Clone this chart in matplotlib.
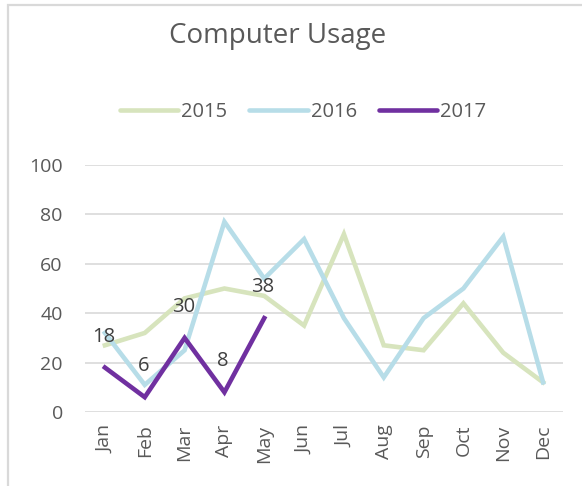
import matplotlib
matplotlib.use("Agg")
import matplotlib.pyplot as plt
from matplotlib.patches import Rectangle
from matplotlib.lines import Line2D

months = ["Jan", "Feb", "Mar", "Apr", "May", "Jun", "Jul", "Aug", "Sep", "Oct", "Nov", "Dec"]
usage_2015 = [27, 32, 46, 50, 47, 35, 72, 27, 25, 44, 24, 12]
usage_2016 = [32, 11, 25, 77, 54, 70, 38, 14, 38, 50, 71, 12]
usage_2017 = [18, 6, 30, 8, 38]
y_ticks = [0, 20, 40, 60, 80, 100]

plt.rcParams['font.family'] = ['Open Sans', 'DejaVu Sans']
W, H = 582, 486
fig = plt.figure(figsize=(W / 100, H / 100), dpi=100)

# border
fig.patches.append(Rectangle((7.5 / W, -0.1), 2, 1 - 5.5 / H + 0.1, transform=fig.transFigure,
                             fill=False, edgecolor="#d9d9d9", linewidth=1.6))

ax = fig.add_axes([85 / W, (H - 412) / H, (563 - 85) / W, (412 - 165) / H])
x = list(range(len(months)))
c15, c16, c17 = "#d7e4bd", "#b7dde8", "#7030a0"
lw = 3.3
ax.plot(x, usage_2015, color=c15, lw=lw, solid_joinstyle="miter", zorder=3)
ax.plot(x, usage_2016, color=c16, lw=lw, solid_joinstyle="miter", zorder=4)
ax.plot(x[:len(usage_2017)], usage_2017, color=c17, lw=lw, solid_joinstyle="miter", zorder=5)

for xi, v in zip(x, usage_2017):
    ax.annotate(str(v), (xi, v), xytext=(-1, 15), textcoords="offset points",
                ha="center", va="bottom", fontsize=14.5, color="#404040", zorder=6)

ax.set_xlim(-0.5, len(months) - 0.5)
ax.set_ylim(0, 100)
ax.set_yticks(y_ticks)
ax.set_xticks(x)
ax.set_xticklabels(months, rotation=90)
ax.tick_params(axis="both", length=0, labelsize=14, labelcolor="#595959")
ax.tick_params(axis="y", pad=16)
ax.tick_params(axis="x", pad=9)
ax.grid(axis="y", color="#d9d9d9", lw=1.2)
ax.set_axisbelow(True)
for s in ax.spines.values():
    s.set_visible(False)

fig.text(278 / W, 1 - 36 / H, "Computer Usage", ha="center", va="center", fontsize=20, color="#595959")

handles = [Line2D([], [], color=c, lw=lw, solid_capstyle="round") for c in (c15, c16, c17)]
leg = fig.legend(handles, ["2015", "2016", "2017"], loc="center", bbox_to_anchor=(303 / W, 1 - 112 / H),
                 ncol=3, frameon=False, fontsize=14.5, handlelength=2.9, handletextpad=0.15,
                 columnspacing=1.1, labelcolor="#595959")

fig.savefig("out.png", dpi=100)
